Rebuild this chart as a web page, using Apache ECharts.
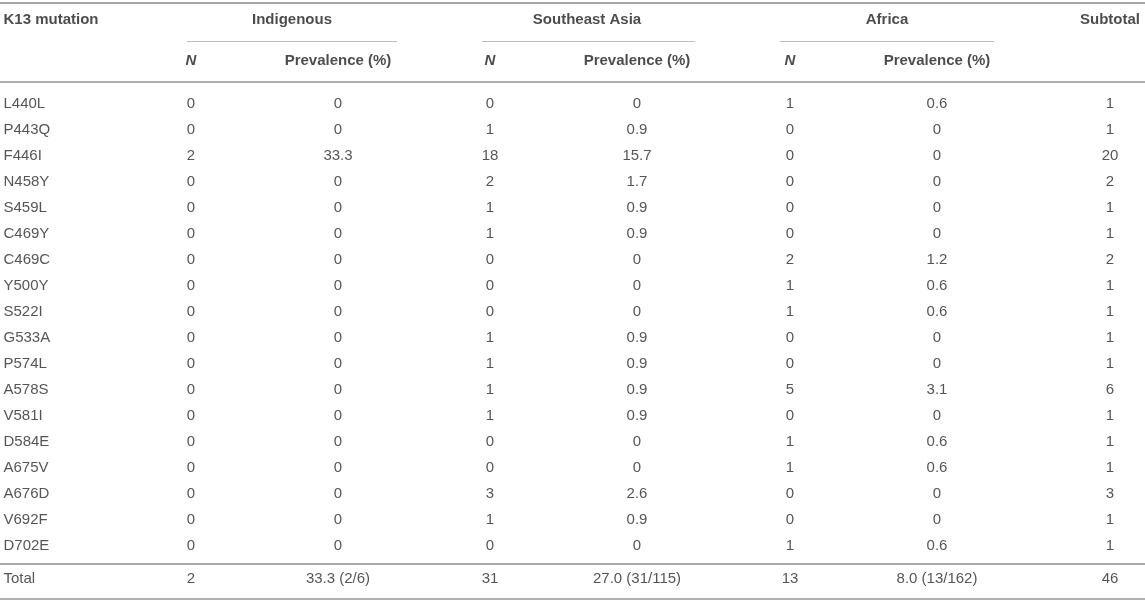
<!DOCTYPE html>
<html>
<head>
<meta charset="utf-8">
<title>K13 mutations</title>
<script src="https://cdn.jsdelivr.net/npm/echarts@6/dist/echarts.min.js"></script>
<style>
  html, body { margin: 0; padding: 0; background: #fff; }
  #main { width: 1145px; height: 606px; }
</style>
</head>
<body>
<div id="main"></div>
<script>
// table data
var mutations = ['L440L', 'P443Q', 'F446I', 'N458Y', 'S459L', 'C469Y', 'C469C', 'Y500Y', 'S522I',
                 'G533A', 'P574L', 'A578S', 'V581I', 'D584E', 'A675V', 'A676D', 'V692F', 'D702E'];
var indigenousN    = [0, 0, 2, 0, 0, 0, 0, 0, 0, 0, 0, 0, 0, 0, 0, 0, 0, 0];
var indigenousPrev = [0, 0, 33.3, 0, 0, 0, 0, 0, 0, 0, 0, 0, 0, 0, 0, 0, 0, 0];
var seAsiaN        = [0, 1, 18, 2, 1, 1, 0, 0, 0, 1, 1, 1, 1, 0, 0, 3, 1, 0];
var seAsiaPrev     = [0, 0.9, 15.7, 1.7, 0.9, 0.9, 0, 0, 0, 0.9, 0.9, 0.9, 0.9, 0, 0, 2.6, 0.9, 0];
var africaN        = [1, 0, 0, 0, 0, 0, 2, 1, 1, 0, 0, 5, 0, 1, 1, 0, 0, 1];
var africaPrev     = [0.6, 0, 0, 0, 0, 0, 1.2, 0.6, 0.6, 0, 0, 3.1, 0, 0.6, 0.6, 0, 0, 0.6];
var subtotal       = [1, 1, 20, 2, 1, 1, 2, 1, 1, 1, 1, 6, 1, 1, 1, 3, 1, 1];
var totalRow       = ['Total', '2', '33.3 (2/6)', '31', '27.0 (31/115)', '13', '8.0 (13/162)', '46'];

var groupNames = ['Indigenous', 'Southeast Asia', 'Africa'];
var subHeaders = ['N', 'Prevalence (%)'];

// layout (x in page px, y in row units)
var W = 1145, H = 606;
var colX = [3, 191, 338, 490, 637, 790, 937, 1110];
var groupX = [292, 587, 887];
var groupSpan = [[187, 397], [482, 695], [780, 994]];
var ROW0 = 104, ROWH = 26;
function ry(px) { return (px - ROW0) / ROWH; }
var yTop = ry(3), yHead = ry(20), yUnder = ry(41), ySub = ry(61), yRule = ry(82),
    yTotRule = ry(564), yTotal = ry(579), yBottom = ry(599);

var FONT = '"Liberation Sans", Arial, sans-serif';
var bodyLabel = { show: true, position: 'inside', color: '#2b2b2b', fontSize: 15, fontFamily: FONT };
var headLabel = { show: true, position: 'inside', color: '#1e1e1e', fontSize: 15, fontWeight: 'bold', fontFamily: FONT };

function textSeries(points, label) {
  return {
    type: 'scatter', symbolSize: 1, clip: false, silent: true,
    itemStyle: { color: 'rgba(0,0,0,0)' },
    label: Object.assign({ formatter: function (p) { return p.value[2]; } }, label),
    data: points
  };
}

function cellSeries(x, values, total, label) {
  var data = values.map(function (v, i) { return [x, i, String(v)]; });
  data.push([x, yTotal, total]);
  return textSeries(data, label || bodyLabel);
}

function rule(x0, x1, y, color, width) {
  return [{ coord: [x0, y], lineStyle: { color: color, width: width, type: 'solid' } }, { coord: [x1, y] }];
}

var series = [];
var leftLabel = Object.assign({}, bodyLabel, { position: 'right', distance: 0 });
series.push(cellSeries(colX[0], mutations, totalRow[0], leftLabel));
series.push(cellSeries(colX[1], indigenousN, totalRow[1]));
series.push(cellSeries(colX[2], indigenousPrev, totalRow[2]));
series.push(cellSeries(colX[3], seAsiaN, totalRow[3]));
series.push(cellSeries(colX[4], seAsiaPrev, totalRow[4]));
series.push(cellSeries(colX[5], africaN, totalRow[5]));
series.push(cellSeries(colX[6], africaPrev, totalRow[6]));
series.push(cellSeries(colX[7], subtotal, totalRow[7]));

// header row 1
series.push(textSeries([[colX[0], yHead, 'K13 mutation']],
  Object.assign({}, headLabel, { position: 'right', distance: 0 })));
series.push(textSeries(groupNames.map(function (g, i) { return [groupX[i], yHead, g]; })
  .concat([[colX[7], yHead, 'Subtotal']]), headLabel));

// header row 2
var subN = [], subP = [];
for (var g = 0; g < 3; g++) {
  subN.push([colX[1 + g * 2], ySub, subHeaders[0]]);
  subP.push([colX[2 + g * 2], ySub, subHeaders[1]]);
}
series.push(textSeries(subN, Object.assign({}, headLabel, { fontStyle: 'italic' })));
series.push(textSeries(subP, headLabel));

// rules
var rules = [
  rule(0, W, yTop, '#a8a8a8', 2),
  rule(0, W, yRule, '#b0b0b0', 2),
  rule(0, W, yTotRule, '#8c8c8c', 1.5),
  rule(0, W, yBottom, '#b0b0b0', 2)
];
groupSpan.forEach(function (s) { rules.push(rule(s[0], s[1], yUnder, '#bdbdbd', 1)); });
series[0].markLine = {
  symbol: 'none', silent: true, animation: false, label: { show: false },
  lineStyle: { type: 'solid' }, data: rules
};

var chart = echarts.init(document.getElementById('main'));
chart.setOption({
  animation: false,
  grid: { left: 0, right: 0, top: 0, bottom: 0 },
  xAxis: { type: 'value', min: 0, max: W, show: false },
  yAxis: { type: 'value', min: ry(0), max: ry(H), inverse: true, show: false },
  series: series
});
</script>
</body>
</html>
